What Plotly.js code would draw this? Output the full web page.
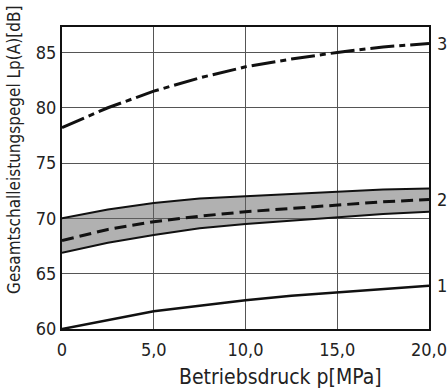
<!DOCTYPE html>
<html><head><meta charset="utf-8">
<script src="https://cdn.plot.ly/plotly-3.0.1.min.js"></script>
<style>html,body{margin:0;padding:0;background:#fff}</style>
</head><body><div id="chart" style="width:447px;height:392px"></div>
<script>
const pressure = [0, 2.5, 5, 7.5, 10, 12.5, 15, 17.5, 20];
const curve3 = [78.2, 80.0, 81.5, 82.7, 83.7, 84.4, 85.0, 85.5, 85.8];
const bandUpper = [70.0, 70.8, 71.4, 71.8, 72.0, 72.2, 72.4, 72.6, 72.7];
const bandMid = [68.0, 69.0, 69.7, 70.2, 70.6, 70.9, 71.2, 71.5, 71.7];
const bandLower = [66.9, 67.8, 68.5, 69.1, 69.5, 69.8, 70.1, 70.4, 70.6];
const curve1 = [60.0, 60.8, 61.6, 62.1, 62.6, 63.0, 63.3, 63.6, 63.9];
const xTickVals = [0, 5, 10, 15, 20];
const xTickText = ["0", "5,0", "10,0", "15,0", "20,0"];
const yTickVals = [60, 65, 70, 75, 80, 85];
const curveLabels = ["3", "2", "1"];
const xTitle = 'Betriebsdruck p[MPa]';
const yTitle = 'Gesamtschalleistungspegel Lp(A)[dB]';

const F = '"DejaVu Sans Condensed", "Liberation Sans Narrow", sans-serif';
const traces = [
  {x: pressure, y: bandLower, mode: 'lines', line: {color: '#111', width: 2}, hoverinfo: 'skip'},
  {x: pressure, y: bandUpper, mode: 'lines', fill: 'tonexty', fillcolor: 'rgba(100,100,100,0.5)', line: {color: '#111', width: 2}, hoverinfo: 'skip'},
  {x: pressure, y: bandMid, mode: 'lines', line: {color: '#111', width: 3, dash: '12px,6px'}, hoverinfo: 'skip'},
  {x: pressure, y: curve3, mode: 'lines', line: {color: '#111', width: 3, dash: '24px,5px,6px,5px'}, hoverinfo: 'skip'},
  {x: pressure, y: curve1, mode: 'lines', line: {color: '#111', width: 2.5}, hoverinfo: 'skip'}
];
const ends = [curve3, bandMid, curve1];
const annotations = ends.map((arr, i) => ({
  x: 1, xref: 'paper', xanchor: 'left', xshift: 6,
  y: arr[arr.length - 1], yref: 'y', yanchor: 'middle',
  text: curveLabels[i], showarrow: false, font: {family: F, size: 18, color: '#222'}
}));
annotations.push({
  x: 0, xref: 'paper', xshift: -48, xanchor: 'center',
  y: 0.593, yref: 'paper', yanchor: 'middle', textangle: -90,
  text: yTitle, showarrow: false, font: {family: F, size: 17, color: '#222'}
});
annotations.push({
  x: 0.595, xref: 'paper', xanchor: 'center',
  y: 0, yref: 'paper', yshift: -48, yanchor: 'middle',
  text: xTitle, showarrow: false, font: {family: F, size: 21, color: '#222'}
});
const layout = {
  width: 447, height: 392,
  margin: {l: 62, r: 18, t: 27, b: 63},
  paper_bgcolor: '#fff', plot_bgcolor: '#fff',
  showlegend: false,
  font: {family: F, color: '#222'},
  xaxis: {
    range: [0, 20], tickvals: xTickVals, ticktext: xTickText,
    showgrid: true, gridcolor: '#555', gridwidth: 1,
    zeroline: false, showline: true, linecolor: '#111', linewidth: 2, mirror: true,
    ticks: '', ticklabeloverflow: 'allow', ticklabelstandoff: 3,
    tickfont: {family: F, size: 18, color: '#222'}
  },
  yaxis: {
    range: [60, 87.3], tickvals: yTickVals,
    showgrid: true, gridcolor: '#555', gridwidth: 1,
    zeroline: false, showline: true, linecolor: '#111', linewidth: 2, mirror: true,
    ticks: '', ticklabeloverflow: 'allow',
    tickfont: {family: F, size: 18, color: '#222'}
  },
  annotations: annotations
};
Plotly.newPlot('chart', traces, layout, {displayModeBar: false, staticPlot: true});
</script></body></html>
